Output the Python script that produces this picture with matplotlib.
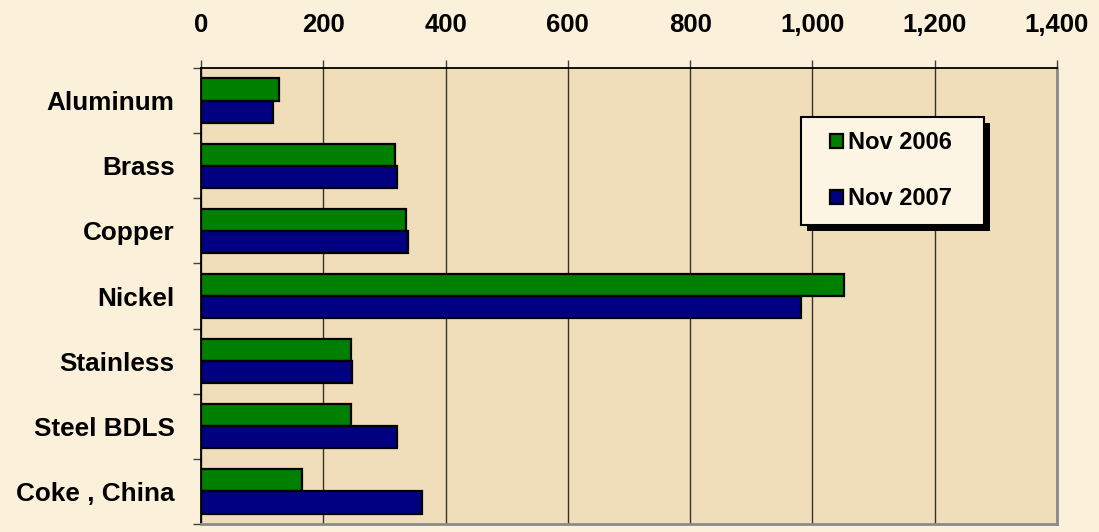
import matplotlib
matplotlib.use("Agg")
import matplotlib.pyplot as plt
from matplotlib.patches import Rectangle
from matplotlib.ticker import FuncFormatter, FixedLocator
import numpy as np

plt.rcParams['font.family'] = ['Liberation Sans', 'DejaVu Sans']
plt.rcParams['font.weight'] = 'bold'

metals = ['Aluminum', 'Brass', 'Copper', 'Nickel', 'Stainless', 'Steel BDLS', 'Coke , China']
nov_2006 = [128, 318, 335, 1052, 245, 245, 166]
nov_2007 = [118, 321, 338, 982, 247, 321, 361]
series_labels = ['Nov 2006', 'Nov 2007']
x_ticks = [0, 200, 400, 600, 800, 1000, 1200, 1400]

fig_bg = '#FBF0D9'
plot_bg = '#F0DEBA'
green = '#008000'
navy = '#000080'

fig = plt.figure(figsize=(10.99, 5.32), dpi=100, facecolor=fig_bg)
ax = fig.add_axes([201 / 1099, 1 - 524 / 532, 856 / 1099, 456 / 532])
ax.set_facecolor(plot_bg)

y = np.arange(len(metals))
h = 0.34
ax.barh(y - h / 2, nov_2006, height=h, color=green, edgecolor='black',
        linewidth=1.6, label=series_labels[0], zorder=3)
ax.barh(y + h / 2, nov_2007, height=h, color=navy, edgecolor='black',
        linewidth=1.6, label=series_labels[1], zorder=3)

ax.set_xlim(0, 1400)
ax.set_ylim(len(metals) - 0.5, -0.5)

# value axis on top, thousands separator
ax.xaxis.tick_top()
ax.set_xticks(x_ticks)
ax.xaxis.set_major_formatter(FuncFormatter(lambda v, p: f'{int(v):,}'))
ax.tick_params(axis='x', which='major', length=6, width=1, color='#404040',
               pad=16, labelsize=18.5)
ax.grid(axis='x', color='#3a3228', linewidth=1, zorder=1)

# category labels centred, tick marks between groups
ax.set_yticks(y)
ax.set_yticklabels(metals)
ax.yaxis.set_minor_locator(FixedLocator(np.arange(-0.5, len(metals), 1.0)))
ax.tick_params(axis='y', which='major', length=0, pad=19, labelsize=18.8)
ax.tick_params(axis='y', which='minor', length=6, width=1, color='#404040')

ax.spines['top'].set_color('black')
ax.spines['top'].set_linewidth(1.3)
ax.spines['left'].set_color('black')
ax.spines['left'].set_linewidth(1.3)
ax.spines['right'].set_color('#8a8a8a')
ax.spines['right'].set_linewidth(2)
ax.spines['bottom'].set_color('#8a8a8a')
ax.spines['bottom'].set_linewidth(2)

# legend box with a solid drop shadow
bx, by, bw, bh = 0.701, 0.656, 0.214, 0.237
sdx, sdy = 6 / 856, 6 / 456
ax.add_patch(Rectangle((bx + sdx, by - sdy), bw, bh, transform=ax.transAxes,
                       facecolor='black', edgecolor='none', zorder=8, clip_on=False))
ax.add_patch(Rectangle((bx, by), bw, bh, transform=ax.transAxes,
                       facecolor='#FDF5E4', edgecolor='black', linewidth=1.5,
                       zorder=9, clip_on=False))

leg = ax.legend(loc='center', bbox_to_anchor=(bx - 0.002, by, bw, bh),
                fontsize=17, frameon=False, handlelength=0.55,
                handleheight=0.55, handletextpad=0.2, labelspacing=1.4,
                borderpad=0.0)
leg.set_zorder(10)
for t in leg.get_texts():
    t.set_fontweight('bold')

fig.savefig('out.png', dpi=100, facecolor=fig_bg)
